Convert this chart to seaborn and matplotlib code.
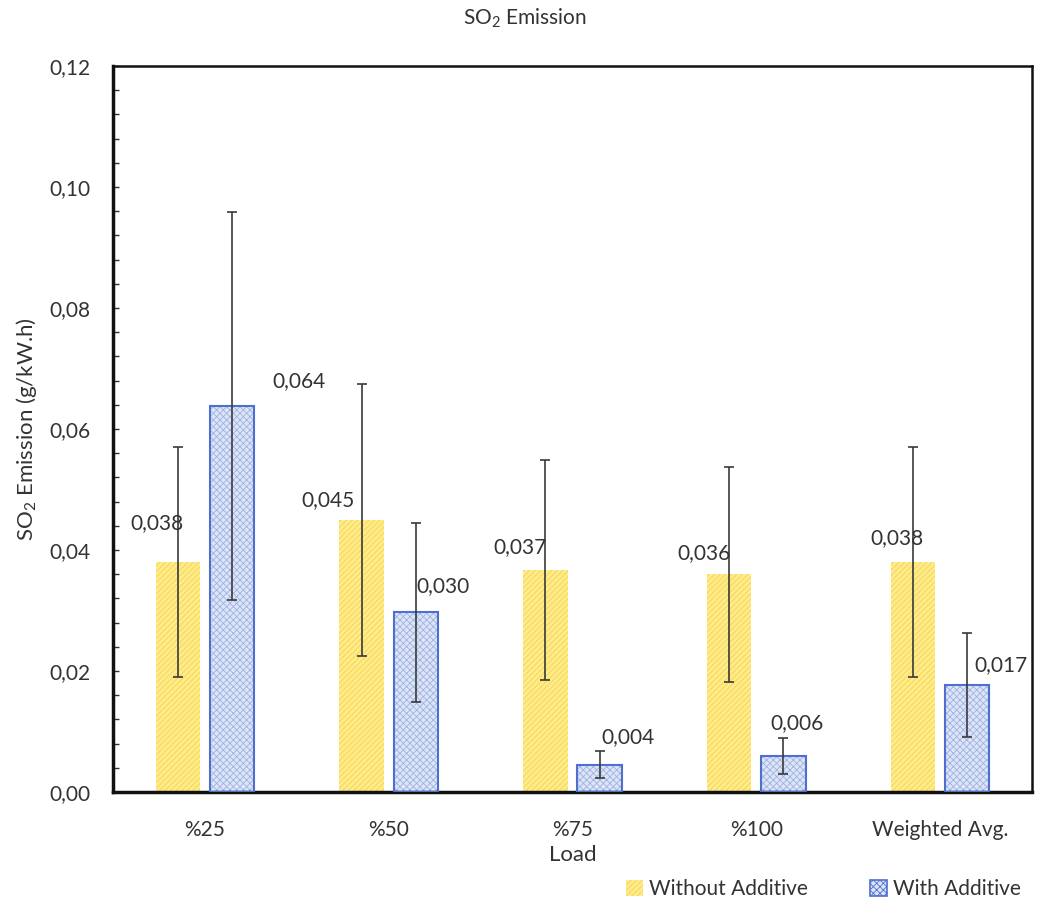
import matplotlib
matplotlib.use("Agg")
import matplotlib.pyplot as plt
from matplotlib.patches import Patch, Rectangle
from matplotlib.ticker import MultipleLocator, FuncFormatter
import seaborn as sns
import pandas as pd
import numpy as np

# ---- data ----
loads = ["%25", "%50", "%75", "%100", "Weighted Avg."]
series_names = ["Without Additive", "With Additive"]
without_vals = [0.038, 0.045, 0.0367, 0.036, 0.038]
with_vals = [0.0638, 0.0297, 0.0045, 0.0059, 0.0177]
without_err = [0.019, 0.0225, 0.0182, 0.0178, 0.019]
with_err = [0.032, 0.0148, 0.0022, 0.003, 0.0086]
without_labels = ["0,038", "0,045", "0,037", "0,036", "0,038"]
with_labels = ["0,064", "0,030", "0,004", "0,006", "0,017"]

# label offsets (pixels from bar top centre)
without_off = [(-21, 39), (-34, 20), (-25, 23), (-25, 21), (-16, 24)]
with_off = [(67, 25), (27, 26), (28, 28), (14, 33), (34, 20)]

df = pd.DataFrame({
    "Load": loads * 2,
    "Series": [series_names[0]] * len(loads) + [series_names[1]] * len(loads),
    "Value": without_vals + with_vals,
})

sns.set_theme(style="white")
plt.rcParams["font.family"] = ["Lato", "DejaVu Sans"]
plt.rcParams["mathtext.fontset"] = "custom"
plt.rcParams["mathtext.rm"] = "Lato"
plt.rcParams["mathtext.it"] = "Lato"
plt.rcParams["hatch.linewidth"] = 0.6

fig = plt.figure(figsize=(10.4, 9.06), dpi=100)
ax = fig.add_axes([113 / 1040, 1 - 792 / 906, (1032 - 113) / 1040, (792 - 66) / 906])

yellow_face = "#FFEB8A"
yellow_hatch = "#F2D44E"
blue_face = "#DCE5F6"
blue_hatch = "#9EB3E3"
blue_edge = "#4F6FCF"
text_color = "#333333"

sns.barplot(data=df, x="Load", y="Value", hue="Series", order=loads,
            hue_order=series_names, palette=[yellow_face, blue_face],
            width=0.59, gap=0.18, errorbar=None, legend=False, ax=ax,
            saturation=1)

styles = [(yellow_hatch, "//////", None), (blue_hatch, "xxxxx", blue_edge)]
vals_all = [without_vals, with_vals]
errs_all = [without_err, with_err]
labels_all = [without_labels, with_labels]
offs_all = [without_off, with_off]

bar_conts = list(ax.containers)
for ci, cont in enumerate(bar_conts):
    hc, hatch, edge = styles[ci]
    xs = []
    for bar in cont:
        bar.set_hatch(hatch)
        bar.set_edgecolor(hc)
        bar.set_linewidth(0)
        xs.append(bar.get_x() + bar.get_width() / 2)
        if edge is not None:
            ax.add_patch(Rectangle((bar.get_x(), 0), bar.get_width(), bar.get_height(),
                                   fill=False, edgecolor=edge, linewidth=1.5, zorder=3))
    ax.errorbar(xs, vals_all[ci], yerr=errs_all[ci], fmt="none", ecolor="#3a3a3a",
                elinewidth=1.2, capsize=3.5, capthick=1.2, zorder=4)
    for x, v, lab, off in zip(xs, vals_all[ci], labels_all[ci], offs_all[ci]):
        ax.annotate(lab, (x, v), xytext=off, textcoords="offset pixels",
                    ha="center", va="center", fontsize=15, color=text_color, zorder=5)

ax.set_ylim(0, 0.12)
ax.set_xlim(-0.5, len(loads) - 0.5)
ax.yaxis.set_major_locator(MultipleLocator(0.02))
ax.yaxis.set_minor_locator(MultipleLocator(0.004))
ax.yaxis.set_major_formatter(FuncFormatter(lambda v, p: f"{v:.2f}".replace(".", ",")))
ax.tick_params(axis="y", which="both", direction="in", left=True, length=4,
               width=1, color=text_color, labelsize=15, labelcolor=text_color, pad=16)
ax.tick_params(axis="x", bottom=False, labelsize=15, labelcolor=text_color, pad=14)

for side in ["left", "bottom"]:
    ax.spines[side].set_linewidth(2.5)
    ax.spines[side].set_color("#111111")
for side in ["top", "right"]:
    ax.spines[side].set_linewidth(1.8)
    ax.spines[side].set_color("#111111")

ax.set_xlabel("Load", fontsize=16, color=text_color, labelpad=4)
ax.set_ylabel("SO$_2$ Emission (g/kW.h)", fontsize=16, color=text_color, labelpad=8)
fig.text(0.505, 1 - 18 / 906, "SO$_2$ Emission", ha="center", va="center",
         fontsize=15, color=text_color)

handles = [
    Patch(facecolor=yellow_face, edgecolor=yellow_hatch, hatch="//////", linewidth=0),
    Patch(facecolor=blue_face, edgecolor=blue_edge, hatch="xxxxx", linewidth=1.2),
]
fig.legend(handles, series_names, loc="center right", bbox_to_anchor=(1.0, 1 - 889 / 906),
           ncol=2, frameon=False, fontsize=15, handlelength=0.8, handleheight=0.8,
           handletextpad=0.3, columnspacing=3.0, labelcolor=text_color)

fig.savefig("out.png", dpi=100)
